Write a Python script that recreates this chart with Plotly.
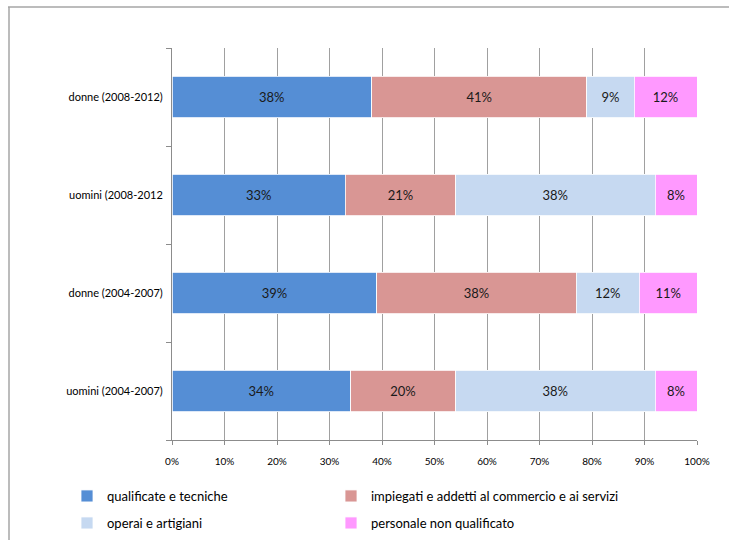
import plotly.graph_objects as go

categories = ["uomini (2004-2007)", "donne (2004-2007)", "uomini (2008-2012", "donne (2008-2012)"]
series_names = ["qualificate e tecniche", "impiegati e addetti al commercio e ai servizi",
                "operai e artigiani", "personale non qualificato"]
qualificate = [34, 39, 33, 38]
impiegati = [20, 38, 21, 41]
operai = [38, 12, 38, 9]
personale = [8, 11, 8, 12]
tick_vals = [0, 10, 20, 30, 40, 50, 60, 70, 80, 90, 100]
tick_text = ["0%", "10%", "20%", "30%", "40%", "50%", "60%", "70%", "80%", "90%", "100%"]

colors = ["#558ED5", "#D99694", "#C6D9F1", "#FF99FF"]
legend_ids = ["legend", "legend2", "legend3", "legend4"]
FONT = "Lato, 'Open Sans', sans-serif"

W, H = 729, 540
L, R, T, B = 172, 32, 48, 100
pw, ph = W - L - R, H - T - B

def px_x(x):
    return (x - L) / pw

def px_y(y):
    return (H - B - y) / ph

fig = go.Figure()
for name, vals, col, lg in zip(series_names, [qualificate, impiegati, operai, personale], colors, legend_ids):
    fig.add_trace(go.Bar(
        y=categories, x=vals, name=name, orientation="h",
        marker=dict(color=col, line=dict(color="white", width=0.8)),
        text=[f"{v}%" for v in vals], textposition="inside", insidetextanchor="middle",
        textangle=0, textfont=dict(family=FONT, size=13, color="#1a1a1a"),
        legend=lg,
    ))

legend_common = dict(orientation="h", xref="container", yref="container",
                     xanchor="left", yanchor="middle",
                     font=dict(size=13, family=FONT),
                     bgcolor="rgba(0,0,0,0)", itemclick=False, itemdoubleclick=False)
# legend entry positions (text start x, row centre y) in pixels
legend_pos = [(67, 496), (331, 496), (67, 523), (331, 523)]
legend_layout = {lid: dict(x=x / W, y=1 - y / H, **legend_common)
                 for lid, (x, y) in zip(legend_ids, legend_pos)}

fig.update_layout(
    width=W, height=H, barmode="stack", bargap=0.58,
    margin=dict(l=L, r=R, t=T, b=B),
    paper_bgcolor="white", plot_bgcolor="white",
    font=dict(family=FONT, color="#000"),
    xaxis=dict(range=[0, 100], tickvals=tick_vals, ticktext=tick_text,
               showgrid=True, gridcolor="#a0a0a0", gridwidth=1,
               showline=True, linecolor="#8c8c8c", linewidth=1,
               ticks="outside", ticklen=4, tickcolor="#8c8c8c",
               tickfont=dict(size=10, family=FONT), zeroline=False, fixedrange=True,
               ticklabelstandoff=8),
    yaxis=dict(categoryorder="array", categoryarray=categories,
               showline=True, linecolor="#8c8c8c", linewidth=1,
               ticks="outside", ticklen=5, tickcolor="#8c8c8c", tickson="boundaries",
               tickfont=dict(size=11, family=FONT), showgrid=False, fixedrange=True,
               ticklabelstandoff=6),
    showlegend=True,
    **legend_layout,
)

# outer chart frame (top and left edges visible)
fig.add_shape(type="line", xref="paper", yref="paper",
              x0=px_x(8), x1=px_x(740), y0=px_y(7), y1=px_y(7),
              line=dict(color="#a6a6a6", width=1.5))
fig.add_shape(type="line", xref="paper", yref="paper",
              x0=px_x(9), x1=px_x(9), y0=px_y(7), y1=px_y(560),
              line=dict(color="#a6a6a6", width=1.5))

fig.write_html("out.html")
